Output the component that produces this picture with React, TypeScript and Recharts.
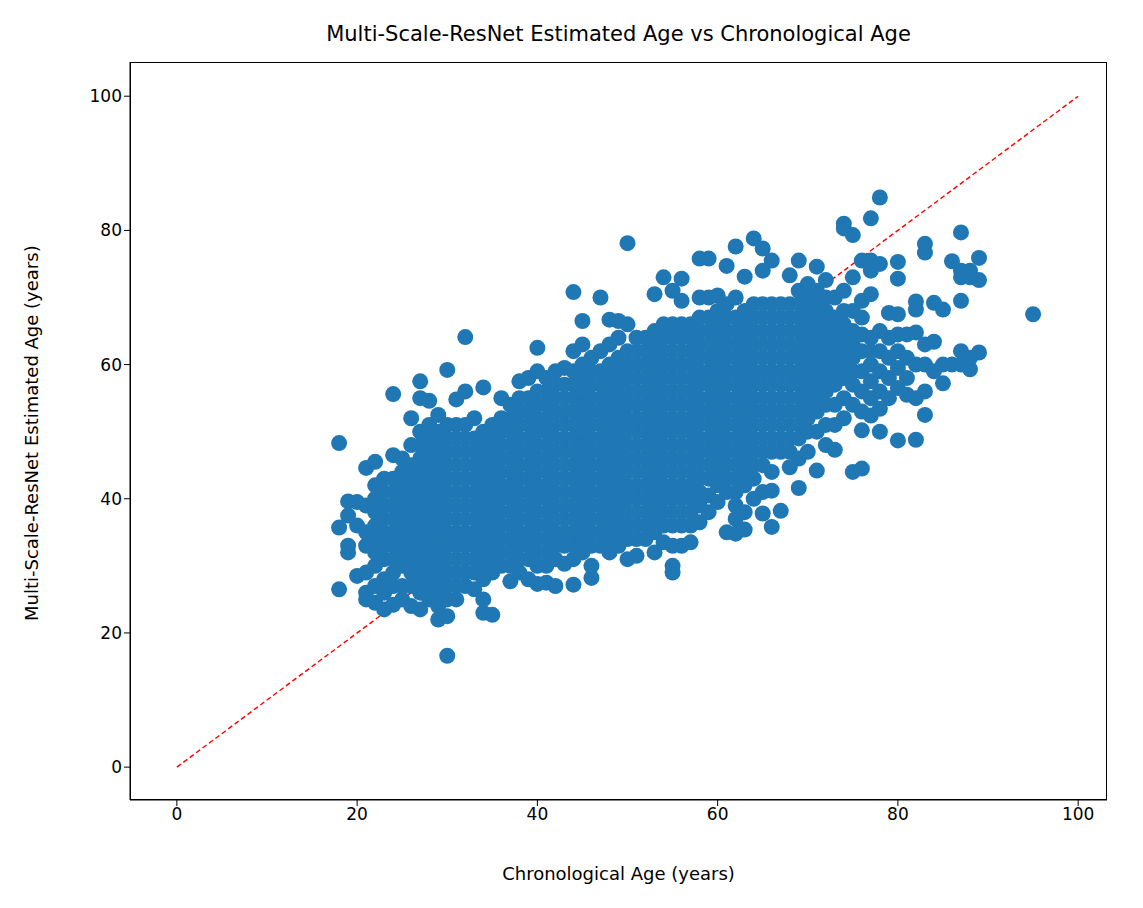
import * as React from 'react';
import {
  ScatterChart,
  Scatter,
  XAxis,
  YAxis,
  ReferenceLine,
} from 'recharts';

// chronological age for each column of dots
const ages = [
  18, 19, 20, 21, 22, 23, 24, 25, 26, 27, 28, 29, 30, 31, 32, 33, 34, 35, 36, 37,
  38, 39, 40, 41, 42, 43, 44, 45, 46, 47, 48, 49, 50, 51, 52, 53, 54, 55, 56, 57,
  58, 59, 60, 61, 62, 63, 64, 65, 66, 67, 68, 69, 70, 71, 72, 73, 74, 75, 76, 77,
  78, 79, 80, 81, 82, 83, 84, 85, 86, 87, 88, 89, 95,
];

// estimated ages read for each chronological age above
const estimates = [
  [26.5, 35.7, 48.3],
  [32, 33, 37.5, 39.6],
  [28.5, 36, 39.5],
  [25, 26, 29, 33, 35, 39, 44.6],
  [24.5, 27, 30, 32, 34, 36, 38, 40, 42, 45.5],
  [23.5, 26, 28, 31, 33, 35, 37, 39, 41, 43],
  [24.2, 27, 29, 31, 33, 35, 37, 39, 41, 43, 46.5, 55.6],
  [25, 27, 30, 32, 34, 36, 38, 40, 42, 44, 46],
  [24, 27, 29, 31, 33, 35, 37, 39, 41, 43, 45, 48, 52],
  [23.5, 26, 28, 30, 32, 34, 36, 38, 40, 42, 44, 46, 48, 50, 55, 57.5],
  [25, 27, 29, 31, 33, 35, 37, 39, 41, 43, 45, 47, 49, 51, 54.6],
  [22, 24, 26, 28, 30, 32, 34, 36, 38, 40, 42, 44, 46, 48, 50, 52.5],
  [16.6, 22.5, 25, 27, 29, 31, 33, 35, 37, 39, 41, 43, 45, 47, 49, 51, 59.2],
  [25, 27, 29, 31, 33, 35, 37, 39, 41, 43, 45, 47, 49, 51, 54.8],
  [27, 29, 31, 33, 35, 37, 39, 41, 43, 45, 47, 49, 51, 56, 64.1],
  [26.5, 29, 31, 33, 35, 37, 39, 41, 43, 45, 47, 49, 52],
  [23, 25, 28, 30, 32, 34, 36, 38, 40, 42, 44, 46, 48, 50, 56.6],
  [22.7, 29, 31, 33, 35, 37, 39, 41, 43, 45, 47, 49, 51],
  [30, 32, 34, 36, 38, 40, 42, 44, 46, 48, 50, 52, 55],
  [27.7, 30, 32, 34, 36, 38, 40, 42, 44, 46, 48, 50, 52, 54],
  [29, 31, 33, 35, 37, 39, 41, 43, 45, 47, 49, 51, 53, 55, 57.5],
  [28, 31, 33, 35, 37, 39, 41, 43, 45, 47, 49, 51, 53, 55, 58],
  [27.3, 30, 32, 34, 36, 38, 40, 42, 44, 46, 48, 50, 52, 54, 56, 59, 62.5],
  [27.5, 30, 32, 34, 36, 38, 40, 42, 44, 46, 48, 50, 52, 54, 56, 58],
  [27, 31, 33, 35, 37, 39, 41, 43, 45, 47, 49, 51, 53, 55, 57, 59],
  [30.3, 33, 35, 37, 39, 41, 43, 45, 47, 49, 51, 53, 55, 57, 59.5],
  [27.2, 31, 33, 35, 37, 39, 41, 43, 45, 47, 49, 51, 53, 55, 57, 59, 62, 70.8],
  [32, 34, 36, 38, 40, 42, 44, 46, 48, 50, 52, 54, 56, 58, 60, 63, 66.5],
  [28.2, 30, 33, 35, 37, 39, 41, 43, 45, 47, 49, 51, 53, 55, 57, 59, 61],
  [33, 35, 37, 39, 41, 43, 45, 47, 49, 51, 53, 55, 57, 59, 62, 70],
  [32, 34, 36, 38, 40, 42, 44, 46, 48, 50, 52, 54, 56, 58, 60, 63, 66.7],
  [33, 35, 37, 39, 41, 43, 45, 47, 49, 51, 53, 55, 57, 59, 61, 64, 66.5],
  [31, 34, 36, 38, 40, 42, 44, 46, 48, 50, 52, 54, 56, 58, 60, 62, 66, 78.1],
  [31.5, 34, 36, 38, 40, 42, 44, 46, 48, 50, 52, 54, 56, 58, 60, 62, 64],
  [34, 36, 38, 40, 42, 44, 46, 48, 50, 52, 54, 56, 58, 60, 62, 64],
  [32, 35, 37, 39, 41, 43, 45, 47, 49, 51, 53, 55, 57, 59, 61, 63, 65, 70.5],
  [33.5, 36, 38, 40, 42, 44, 46, 48, 50, 52, 54, 56, 58, 60, 62, 64, 66, 73],
  [29, 30, 33, 36, 38, 40, 42, 44, 46, 48, 50, 52, 54, 56, 58, 60, 62, 64, 66, 71],
  [33, 36, 38, 40, 42, 44, 46, 48, 50, 52, 54, 56, 58, 60, 62, 64, 66, 69.5, 72.8],
  [33.5, 36, 38, 40, 42, 44, 46, 48, 50, 52, 54, 56, 58, 60, 62, 64, 66],
  [36.5, 39, 41, 43, 45, 47, 49, 51, 53, 55, 57, 59, 61, 63, 65, 67, 70, 75.8],
  [38, 40.5, 43, 45, 47, 49, 51, 53, 55, 57, 59, 61, 63, 65, 67, 70, 75.8],
  [39.5, 42, 44, 46, 48, 50, 52, 54, 56, 58, 60, 62, 64, 66, 68, 70.3],
  [35, 41, 43, 45, 47, 49, 51, 53, 55, 57, 59, 61, 63, 65, 67, 69, 74.7],
  [34.8, 37, 39, 41, 43, 45, 47, 49, 51, 53, 55, 57, 59, 61, 63, 65, 67, 70, 77.6],
  [35.4, 38, 42, 44, 46, 48, 50, 52, 54, 56, 58, 60, 62, 64, 66, 68, 73.1],
  [40, 43, 45, 47, 49, 51, 53, 55, 57, 59, 61, 63, 65, 67, 69, 78.8],
  [37.8, 41, 45, 47, 49, 51, 53, 55, 57, 59, 61, 63, 65, 67, 69, 74, 77.3],
  [35.8, 41.2, 44, 47, 49, 51, 53, 55, 57, 59, 61, 63, 65, 67, 69, 75.5],
  [38.2, 47, 49, 51, 53, 55, 57, 59, 61, 63, 65, 67, 69],
  [44.7, 47, 49, 51, 53, 55, 57, 59, 61, 63, 65, 67, 69, 73.3],
  [41.6, 46, 49, 51, 53, 55, 57, 59, 61, 63, 65, 67, 69, 71, 75.5],
  [47, 50, 52, 54, 56, 58, 60, 62, 64, 66, 68, 70, 72],
  [44.2, 50, 53, 55, 57, 59, 61, 63, 65, 67, 69, 71, 74.6],
  [48, 51, 54, 56, 58, 60, 62, 64, 66, 68, 70, 72.6],
  [47.3, 51, 54, 57, 59, 61, 63, 65, 67, 70],
  [52, 55, 58, 60, 62, 64, 66, 68, 71, 80.3, 81],
  [44, 54, 57, 59, 61, 63, 65, 68, 73, 79.3],
  [44.5, 50.2, 53, 56, 59, 62, 64.5, 67, 69.5, 75.5],
  [52.4, 55, 57.5, 60, 62, 64, 70.5, 74, 75.5, 81.8],
  [50, 53.4, 56, 59, 62, 65, 75, 84.9],
  [55, 58, 61, 64, 67.7],
  [48.7, 56.5, 59.5, 62, 64.5, 67.5, 72.8, 75.3],
  [55.5, 58, 61, 64.5],
  [48.8, 55, 60, 64.8, 68.2, 69.4],
  [52.5, 56, 60, 63, 76.7, 78],
  [59, 63.4, 69.2],
  [57.2, 60, 68.2],
  [60, 75.4],
  [60, 62, 69.5, 73, 74, 79.7],
  [59.3, 61, 73, 74],
  [61.8, 72.6, 75.9],
  [67.5],
];

const ticks = [0, 20, 40, 60, 80, 100];
const identityLine = [{ x: 0, y: 0 }, { x: 100, y: 100 }];

const points = ages.flatMap((age, i) =>
  estimates[i].map((est) => ({ age, est }))
);

const font = 'DejaVu Sans, sans-serif';
const tickStyle = { fill: '#000', fontSize: 17, fontFamily: font };

const Dot = (props: any) => (
  <circle cx={props.cx} cy={props.cy} r={8} fill="#1f77b4" />
);

export default function App() {
  return (
    <div style={{ position: 'absolute', left: 0, top: 0, width: 1143, height: 908, background: '#fff' }}>
      <div
        style={{
          position: 'absolute',
          top: 22,
          left: 130,
          width: 977,
          textAlign: 'center',
          fontFamily: font,
          fontSize: 21,
        }}
      >
        Multi-Scale-ResNet Estimated Age vs Chronological Age
      </div>
      <ScatterChart
        width={1143}
        height={908}
        margin={{ top: 62, right: 36, bottom: 0, left: 0 }}
      >
        <XAxis
          type="number"
          dataKey="age"
          domain={[-5.2, 103.2]}
          ticks={ticks}
          height={108}
          stroke="#000"
          tickSize={6}
          tick={tickStyle}
          label={{ value: 'Chronological Age (years)', position: 'insideBottom', offset: 28, fill: '#000', fontSize: 18, fontFamily: font }}
        />
        <YAxis
          type="number"
          dataKey="est"
          domain={[-4.9, 105.1]}
          ticks={ticks}
          width={130}
          stroke="#000"
          tickSize={6}
          tick={tickStyle}
          label={{ value: 'Multi-Scale-ResNet Estimated Age (years)', angle: -90, position: 'insideLeft', offset: 32, dy: 190, fill: '#000', fontSize: 18, fontFamily: font }}
        />
        <Scatter data={points} fill="#1f77b4" shape={Dot} isAnimationActive={false} />
        <ReferenceLine segment={identityLine} stroke="#ff0000" strokeDasharray="5 3" strokeWidth={1.4} />
      </ScatterChart>
      <div
        style={{
          position: 'absolute',
          left: 130,
          top: 62,
          width: 977,
          height: 738,
          boxSizing: 'border-box',
          border: '1px solid #000',
          pointerEvents: 'none',
        }}
      />
    </div>
  );
}
